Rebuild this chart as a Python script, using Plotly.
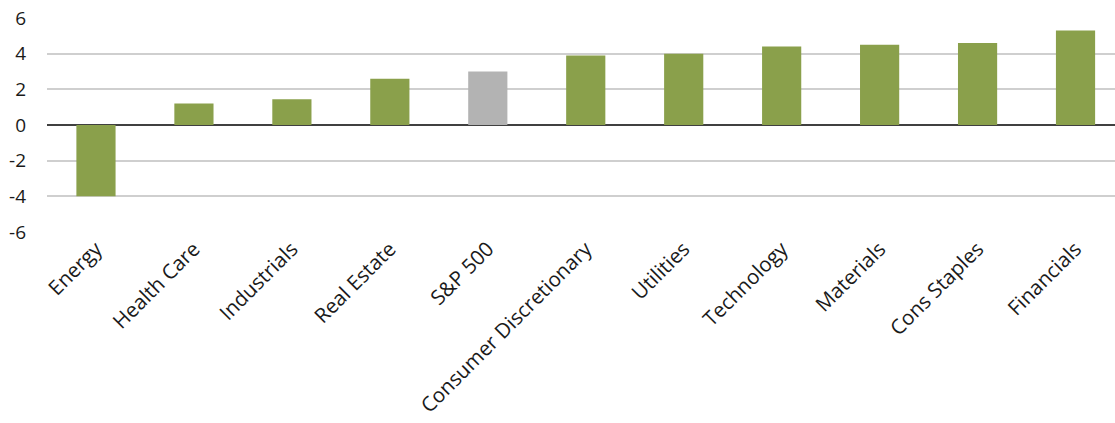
import plotly.graph_objects as go

categories = ["Energy", "Health Care", "Industrials", "Real Estate", "S&P 500",
              "Consumer Discretionary", "Utilities", "Technology", "Materials",
              "Cons Staples", "Financials"]
values = [-4.0, 1.2, 1.45, 2.6, 3.0, 3.9, 4.0, 4.4, 4.5, 4.6, 5.3]
GREEN = "#8AA04B"
GREY = "#B3B3B3"
colors = [GREY if c == "S&P 500" else GREEN for c in categories]
y_ticks = [-6, -4, -2, 0, 2, 4, 6]
y_tick_text = ["-6", "-4", "-2", "0", "2", "4", "6"]

fig = go.Figure(go.Bar(
    x=categories, y=values, marker=dict(color=colors, line=dict(width=0)),
    width=0.4,
))

n = len(categories)
fig.update_layout(
    width=1115, height=423,
    margin=dict(l=47, r=0, t=18, b=191, autoexpand=False),
    paper_bgcolor="white", plot_bgcolor="white",
    font=dict(family="Open Sans", size=18, color="#1a1a1a"),
    showlegend=False,
)
fig.update_xaxes(
    range=[-0.5, n - 1 + 0.403], tickangle=-45, showgrid=False,
    showline=False, ticks="", tickfont=dict(size=20.5), automargin=False,
    ticklabeloverflow="allow",
)
fig.update_yaxes(
    range=[-6, 6], tickvals=y_ticks, ticktext=y_tick_text, showgrid=True,
    gridcolor="#CFCFCF", gridwidth=1.5, zeroline=True, zerolinecolor="#404040",
    zerolinewidth=1.5, showline=False, ticks="", ticklabelstandoff=20,
    tickfont=dict(size=19), automargin=False, ticklabeloverflow="allow",
)
fig.write_html(
    "out.html",
    config={"displayModeBar": False},
    post_script="document.body.style.margin='0';document.body.style.overflow='hidden';",
)
